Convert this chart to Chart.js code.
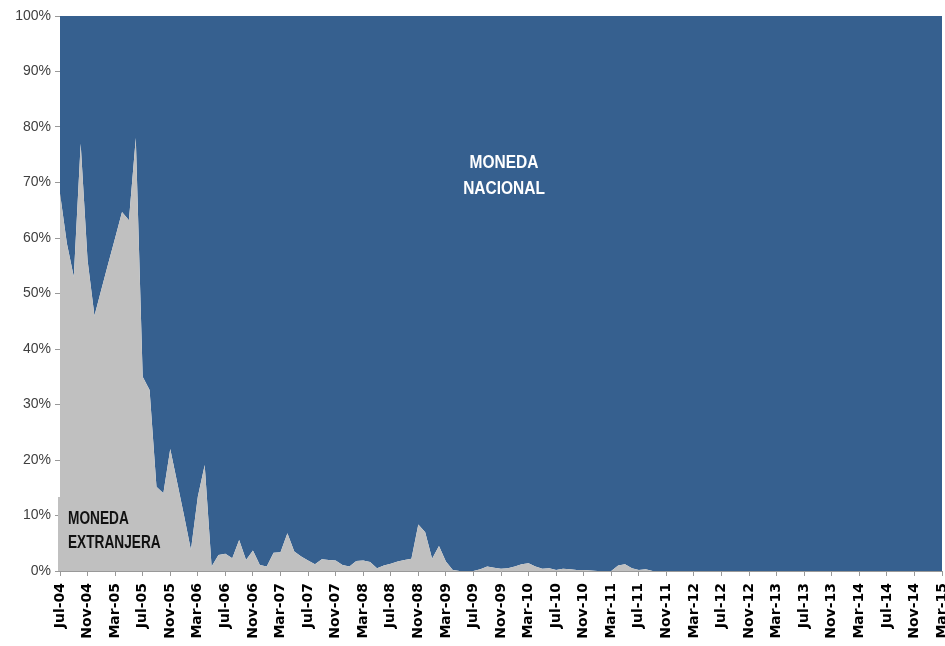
<!DOCTYPE html>
<html>
<head>
<meta charset="utf-8">
<script src="https://cdn.jsdelivr.net/npm/chart.js@4"></script>
<style>
  html, body { margin: 0; padding: 0; background: #fff; }
  #wrap { width: 945px; height: 646px; position: relative; }
</style>
</head>
<body>
<div id="wrap"><canvas id="chart-canvas"></canvas></div>
<script>
// etiquetas del eje X (cada 4 meses)
const tickLabels = ['Jul-04','Nov-04','Mar-05','Jul-05','Nov-05','Mar-06','Jul-06','Nov-06','Mar-07','Jul-07',
    'Nov-07','Mar-08','Jul-08','Nov-08','Mar-09','Jul-09','Nov-09','Mar-10','Jul-10','Nov-10','Mar-11','Jul-11',
    'Nov-11','Mar-12','Jul-12','Nov-12','Mar-13','Jul-13','Nov-13','Mar-14','Jul-14','Nov-14','Mar-15'];

const monthNames = ['Jan','Feb','Mar','Apr','May','Jun','Jul','Aug','Sep','Oct','Nov','Dec'];

// participación de moneda extranjera (%), mensual desde jul-04 hasta mar-15
const extranjera = [
    68, 59, 53, 77, 56, 46, 50.7, 55.4, 60, 64.7, 63.2, 78, 35, 32.6, 15.2, 14, 22, 16, 10, 3.8,
    13.4, 19.1, 0.8, 2.9, 3.1, 2.3, 5.6, 2.0, 3.7, 1.1, 0.8, 3.3, 3.4, 6.8, 3.5, 2.6, 1.9, 1.2, 2.1, 2.0,
    1.9, 1.1, 0.8, 1.8, 1.9, 1.6, 0.5, 1.0, 1.3, 1.7, 2.0, 2.2, 8.4, 7.0, 2.2, 4.5, 1.7, 0.2, 0, 0,
    0, 0.3, 0.8, 0.6, 0.4, 0.5, 0.8, 1.2, 1.4, 0.8, 0.4, 0.5, 0.2, 0.4, 0.3, 0.2, 0.2, 0.1, 0, 0,
    0, 1.0, 1.2, 0.5, 0.2, 0.3, 0, 0, 0, 0, 0, 0, 0, 0, 0, 0, 0, 0, 0, 0,
    0, 0, 0, 0, 0, 0, 0, 0, 0, 0, 0, 0, 0, 0, 0, 0, 0, 0, 0, 0,
    0, 0, 0, 0, 0, 0, 0, 0, 0
];

// el resto es moneda nacional (grafico 100% apilado)
const nacional = extranjera.map(v => 100 - v);

const meses = [];
for (let i = 0; i < extranjera.length; i++) {
    const m = (6 + i) % 12;
    const y = 2004 + Math.floor((6 + i) / 12);
    meses.push(monthNames[m] + '-' + String(y).slice(2));
}

const BLUE = '#36608f';
const GRAY = '#c0c0c0';

// texto angosto (no hay fuente narrow instalada, se comprime en X)
function narrowText(ctx, txt, x, y, sx) {
    ctx.save();
    ctx.translate(x, y);
    ctx.scale(sx, 1);
    ctx.fillText(txt, 0, 0);
    ctx.restore();
}

// textos dentro del grafico
const labelsPlugin = {
    id: 'labels',
    afterDatasetsDraw(chart) {
        const ctx = chart.ctx;
        ctx.save();
        // caja gris del texto "moneda extranjera"
        ctx.fillStyle = GRAY;
        ctx.fillRect(58, 497, 108, 74);

        ctx.font = 'bold 18px "Liberation Sans", Arial, sans-serif';
        ctx.fillStyle = '#111';
        ctx.textAlign = 'left';
        ctx.textBaseline = 'middle';
        narrowText(ctx, 'MONEDA', 68, 519, 0.76);
        narrowText(ctx, 'EXTRANJERA', 68, 543, 0.76);

        ctx.fillStyle = '#fff';
        ctx.textAlign = 'center';
        narrowText(ctx, 'MONEDA', 504, 163, 0.86);
        narrowText(ctx, 'NACIONAL', 504, 189, 0.86);
        ctx.restore();
    }
};

new Chart(document.getElementById('chart-canvas').getContext('2d'), {
    type: 'line',
    data: {
        labels: meses,
        datasets: [
            {
                label: 'MONEDA EXTRANJERA',
                data: extranjera,
                backgroundColor: GRAY,
                borderColor: GRAY,
                borderWidth: 0,
                pointRadius: 0,
                tension: 0,
                fill: 'origin',
                stack: 's'
            },
            {
                label: 'MONEDA NACIONAL',
                data: nacional,
                backgroundColor: BLUE,
                borderColor: BLUE,
                borderWidth: 0,
                pointRadius: 0,
                tension: 0,
                fill: '-1',
                stack: 's'
            }
        ]
    },
    options: {
        responsive: true,
        maintainAspectRatio: false,
        animation: false,
        layout: { padding: { top: 16, right: 3, left: 0, bottom: 0 } },
        plugins: { legend: { display: false }, tooltip: { enabled: false } },
        scales: {
            x: {
                stacked: true,
                offset: false,
                afterFit: s => { s.height = 75; s.paddingLeft = 0; s.paddingRight = 0; },
                grid: {
                    drawOnChartArea: false,
                    tickLength: 5,
                    color: c => (c.index % 4 === 0 ? '#999' : 'rgba(0,0,0,0)')
                },
                border: { color: '#999' },
                ticks: {
                    autoSkip: false,
                    minRotation: 90,
                    maxRotation: 90,
                    padding: 7,
                    color: '#000',
                    font: { family: 'DejaVu Sans', size: 14, weight: 'bold' },
                    callback: (v, i) => (i % 4 === 0 ? tickLabels[i / 4] : '')
                }
            },
            y: {
                stacked: true,
                min: 0,
                max: 100,
                afterFit: s => { s.width = 60; s.paddingTop = 0; s.paddingBottom = 0; },
                grid: { drawOnChartArea: false, tickLength: 5, color: '#999' },
                border: { color: '#999' },
                ticks: {
                    stepSize: 10,
                    padding: 4,
                    color: '#404040',
                    font: { family: 'Liberation Sans', size: 14 },
                    callback: v => v + '%'
                }
            }
        }
    },
    plugins: [labelsPlugin]
});
</script>
</body>
</html>
